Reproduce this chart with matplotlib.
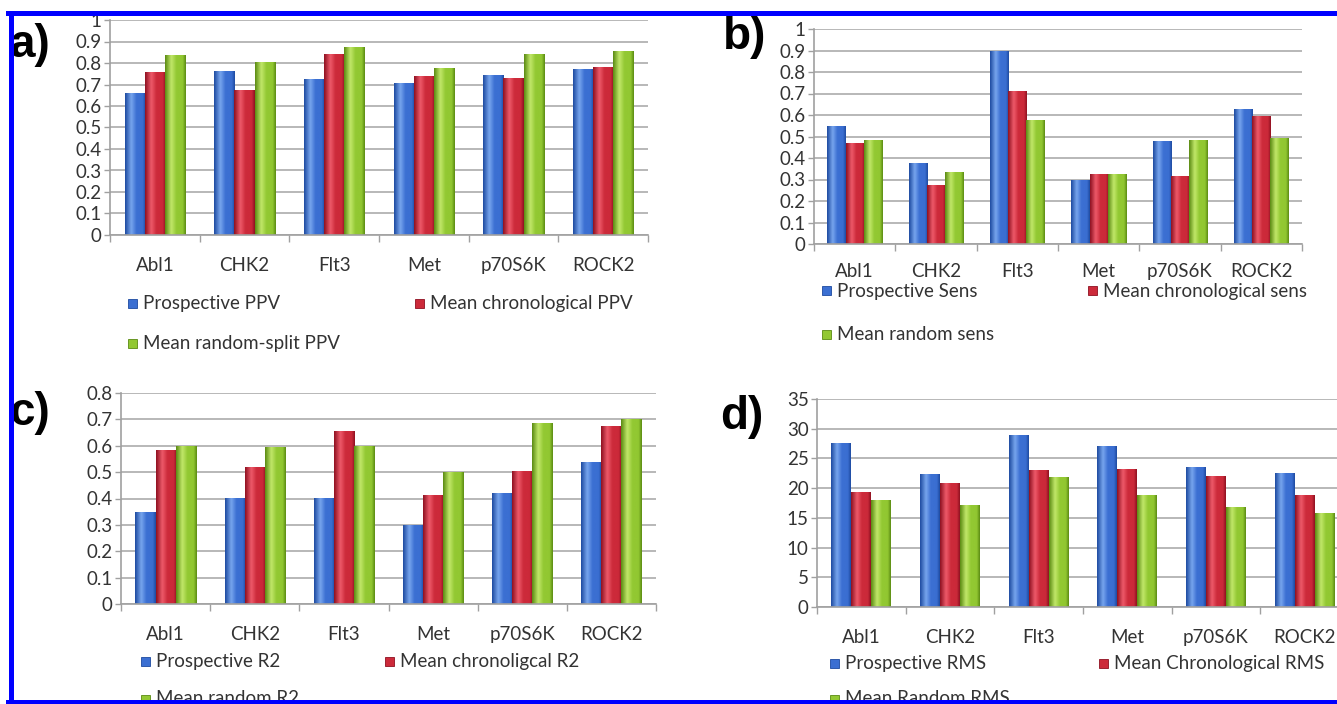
import numpy as np
import matplotlib
matplotlib.use("Agg")
import matplotlib.pyplot as plt
from matplotlib.colors import LinearSegmentedColormap
from matplotlib.patches import Rectangle
from matplotlib.lines import Line2D

W, H = 1337, 704

# data
kinases = ['Abl1', 'CHK2', 'Flt3', 'Met', 'p70S6K', 'ROCK2']

ppv_prosp = [0.66, 0.765, 0.725, 0.705, 0.745, 0.77]
ppv_chrono = [0.76, 0.675, 0.84, 0.74, 0.73, 0.78]
ppv_random = [0.835, 0.805, 0.875, 0.775, 0.84, 0.855]

sens_prosp = [0.55, 0.375, 0.90, 0.30, 0.48, 0.63]
sens_chrono = [0.47, 0.275, 0.71, 0.325, 0.315, 0.595]
sens_random = [0.485, 0.335, 0.575, 0.325, 0.485, 0.495]

r2_prosp = [0.35, 0.40, 0.40, 0.30, 0.42, 0.54]
r2_chrono = [0.585, 0.52, 0.655, 0.415, 0.505, 0.675]
r2_random = [0.60, 0.595, 0.60, 0.50, 0.685, 0.70]

rms_prosp = [27.6, 22.4, 29.0, 27.1, 23.6, 22.6]
rms_chrono = [19.4, 20.8, 23.0, 23.2, 22.0, 18.8]
rms_random = [18.0, 17.2, 21.9, 18.9, 16.9, 15.9]

FONT = 'Lato'
TXT = '#333333'
plt.rcParams['font.family'] = [FONT, 'DejaVu Sans']

# (dark, light, mid) shades for the cylinder look
shades = {
    'blue': ('#1d4aa0', '#78a6ee', '#3b6fd2'),
    'red': ('#8e1020', '#ee5a6a', '#cc2a3a'),
    'green': ('#5a8a12', '#c2e86a', '#92c832'),
}


def make_cmap(name):
    d, l, m = shades[name]
    return LinearSegmentedColormap.from_list(
        name, [(0, d), (0.3, l), (0.55, m), (0.85, m), (1, d)])


cmaps = {k: make_cmap(k) for k in shades}
grad = np.linspace(0, 1, 64).reshape(1, -1)


def px_axes(left, right, top, bottom):
    return fig.add_axes([left / W, 1 - bottom / H, (right - left) / W, (bottom - top) / H])


def panel(ax, series, ymax, ystep, pad):
    x = np.arange(len(kinases))
    w = 0.225
    for i, (vals, col) in enumerate(series):
        bars = ax.bar(x + (i - 1) * w, vals, w, color=shades[col][2], zorder=2, lw=0)
        for b in bars:
            x0 = b.get_x()
            im = ax.imshow(grad, extent=(x0, x0 + b.get_width(), 0, b.get_height()),
                           aspect='auto', cmap=cmaps[col], zorder=2.1,
                           interpolation='bicubic')
            im.set_clip_path(b)
    ax.set_xlim(-0.5, len(kinases) - 0.5)
    ax.set_ylim(0, ymax)
    ticks = np.round(np.arange(0, ymax + ystep / 2, ystep), 3)
    ax.set_yticks(ticks)
    ax.set_yticklabels(['%g' % t for t in ticks])
    ax.set_xticks(x)
    ax.set_xticklabels(kinases)
    ax.set_xticks(np.arange(-0.5, len(kinases)), minor=True)
    ax.tick_params(axis='x', which='major', length=0, pad=pad, labelsize=13.5, labelcolor=TXT)
    ax.tick_params(axis='x', which='minor', length=5, color='#a0a0a0', width=1)
    ax.tick_params(axis='y', length=4, color='#a0a0a0', width=1, pad=2,
                   labelsize=13.5, labelcolor=TXT)
    ax.yaxis.grid(True, color='#b8b8b8', lw=1.4)
    ax.set_axisbelow(True)
    for s in ['top', 'right']:
        ax.spines[s].set_visible(False)
    for s in ['left', 'bottom']:
        ax.spines[s].set_color('#a0a0a0')
        ax.spines[s].set_linewidth(1.2)


def legend_entry(xp, yp, label, col):
    fig.patches.append(Rectangle((xp / W, 1 - (yp + 4.5) / H), 9 / W, 9 / H,
                                 transform=fig.transFigure, facecolor=shades[col][2],
                                 edgecolor=shades[col][0], lw=0.6, zorder=5))
    fig.text((xp + 15) / W, 1 - yp / H, label, fontsize=13.5, color=TXT,
             va='center', ha='left', zorder=5)


fig = plt.figure(figsize=(W / 100, H / 100), dpi=100)

ax_a = px_axes(110, 648, 20, 235)
panel(ax_a, [(ppv_prosp, 'blue'), (ppv_chrono, 'red'), (ppv_random, 'green')], 1, 0.1, 16)
ax_b = px_axes(814, 1302, 29, 244)
panel(ax_b, [(sens_prosp, 'blue'), (sens_chrono, 'red'), (sens_random, 'green')], 1, 0.1, 14)
ax_c = px_axes(121, 656, 393, 604)
panel(ax_c, [(r2_prosp, 'blue'), (r2_chrono, 'red'), (r2_random, 'green')], 0.8, 0.1, 16)
ax_d = px_axes(817, 1349, 399, 607)
panel(ax_d, [(rms_prosp, 'blue'), (rms_chrono, 'red'), (rms_random, 'green')], 35, 5, 16)

legend_entry(128, 303, 'Prospective PPV', 'blue')
legend_entry(415, 303, 'Mean chronological PPV', 'red')
legend_entry(128, 343, 'Mean random-split PPV', 'green')

legend_entry(822, 291, 'Prospective Sens', 'blue')
legend_entry(1088, 291, 'Mean chronological sens', 'red')
legend_entry(822, 335, 'Mean random sens', 'green')

legend_entry(141, 661, 'Prospective R2', 'blue')
legend_entry(385, 661, 'Mean chronoligcal R2', 'red')
legend_entry(141, 699, 'Mean random R2', 'green')

legend_entry(830, 663, 'Prospective RMS', 'blue')
legend_entry(1099, 663, 'Mean Chronological RMS', 'red')
legend_entry(830, 699, 'Mean Random RMS', 'green')

# panel letters
for lab, xp, yp in [('a)', 30, 45), ('b)', 745, 37), ('c)', 30, 413), ('d)', 742, 417)]:
    fig.text(xp / W, 1 - yp / H, lab, fontsize=33, fontweight='bold',
             family='Liberation Sans', ha='center', va='center', color='black')

# blue frame round the figure
frame = dict(color='#0000ff', lw=3.6, transform=fig.transFigure, zorder=20)
fig.add_artist(Line2D([10.5 / W, 10.5 / W], [1 - 12.5 / H, 0], **frame))
fig.add_artist(Line2D([8 / W, 1], [1 - 12.5 / H, 1 - 12.5 / H], **frame))
fig.add_artist(Line2D([8 / W, 1], [1 - 702 / H, 1 - 702 / H], **frame))

fig.savefig('out.png', dpi=100)
